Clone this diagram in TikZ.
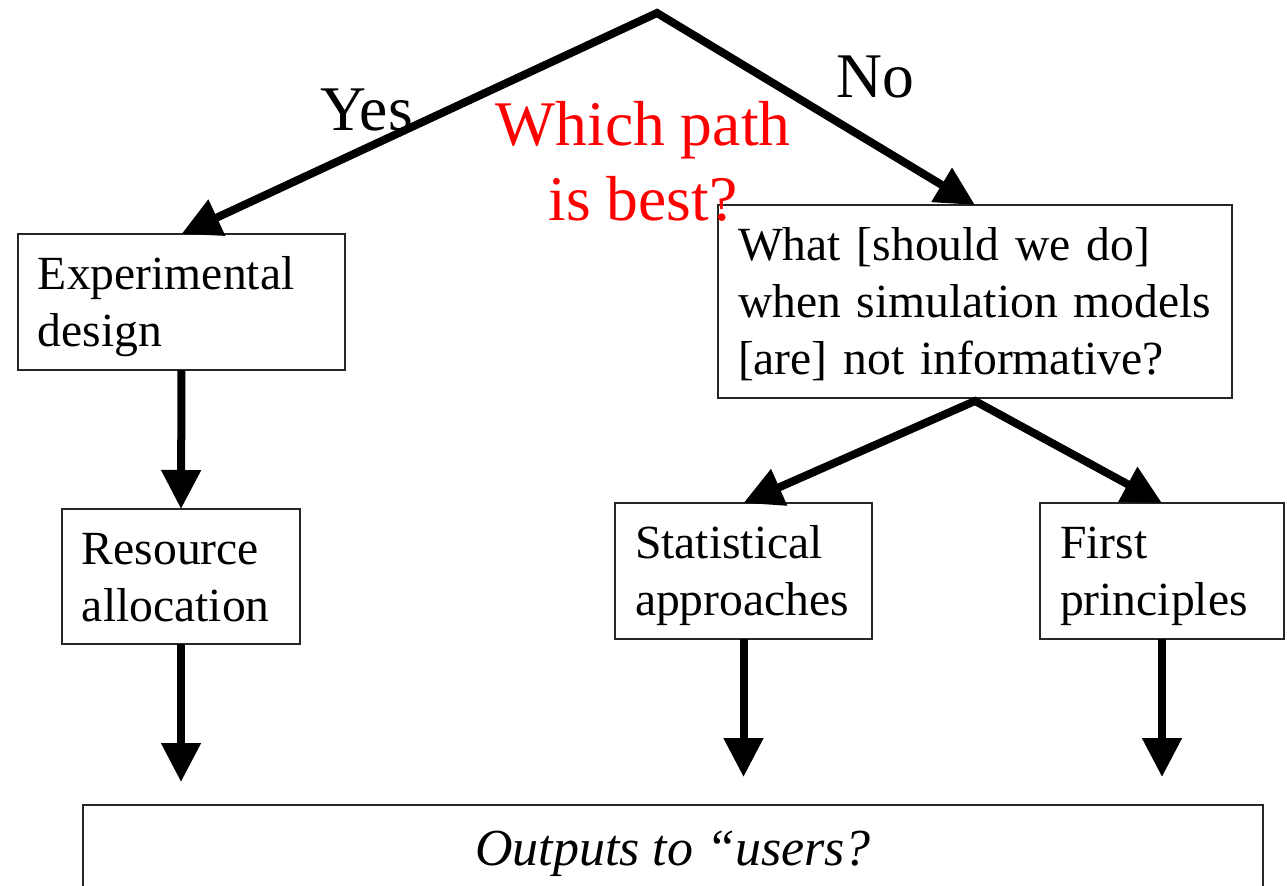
\documentclass[tikz,border=0pt]{standalone}
\usepackage{fontspec}
\setmainfont{Liberation Serif}
\usetikzlibrary{arrows.meta}
\hyphenpenalty=10000
\exhyphenpenalty=10000
\newcommand\boxfont{\fontsize{23.8pt}{28.5pt}\selectfont}
\newcommand\bigfont{\fontsize{31.8pt}{37.5pt}\selectfont}
\newcommand\outfont{\fontsize{26pt}{30pt}\selectfont\itshape}
\newcommand\tp{\rule{0pt}{22pt}}
\newcommand\bt{\rule[-6pt]{0pt}{6pt}}
\tikzset{
  box/.style={draw=black!85, line width=0.75pt, fill=white, align=left,
    inner xsep=10pt, inner ysep=0pt, outer sep=0pt, font=\boxfont, anchor=north west},
  arr/.style={line width=4pt, -{Triangle[length=19.5pt,width=19pt]}},
  arrtwo/.style={line width=4pt, line join=miter,
    {Triangle[length=19.5pt,width=19pt]}-{Triangle[length=19.5pt,width=19pt]}},
  lbl/.style={font=\bigfont, inner sep=0pt}
}
\begin{document}
\begin{tikzpicture}[x=0.5pt,y=-0.5pt]
\path[use as bounding box, clip] (0,0) rectangle (1287,885);
\fill[white] (0,0) rectangle (1287,885);

% boxes
\node[box, text width=143.5pt, minimum height=68pt] (exp) at (18,234) {\tp Experimental\\design\bt};
\node[box, text width=99pt, minimum height=67.5pt] (res) at (62,509) {\tp Resource\\allocation\bt};
\node[box, text width=237pt, minimum height=96.5pt] (what) at (718,205)
  {\tp What [should we do]\\when simulation models\\{[are]} not informative?\bt};
\node[box, text width=108.5pt, minimum height=68pt] (stat) at (615,503) {\tp Statistical\\approaches\bt};
\node[box, text width=102pt, minimum height=68pt] (first) at (1040,503) {\tp First\\principles\bt};
\node[draw=black!85, line width=0.75pt, fill=white, anchor=north west, outer sep=0pt,
  inner sep=0pt, minimum width=590pt, minimum height=46pt, text height=20pt, text depth=6pt,
  font=\outfont] (out) at (83,805) {Outputs to \textquotedblleft users?};

% labels
\node[lbl, anchor=base west] (yes) at (320,130) {Yes};
\node[lbl, anchor=base west] (no) at (836,97) {No};
\node[lbl, anchor=base, align=center, text=red] (q) at (643,220) {Which path\\is best?};

% connectors
\coordinate (apex) at (657,13);
\draw[arrtwo] (exp.north) -- (apex) -- (what.north);
\draw[arrtwo] (stat.north) -- ([yshift=-1.5pt]what.south) -- (first.north);
\draw[arr] (exp.south) -- (res.north);
\coordinate (r1) at (181,782);
\coordinate (s1) at (743.5,777);
\coordinate (f1) at (1162,777);
\draw[arr] (res.south) -- (r1);
\draw[arr] (stat.south) -- (s1);
\draw[arr] (first.south) -- (f1);
\end{tikzpicture}
\end{document}
